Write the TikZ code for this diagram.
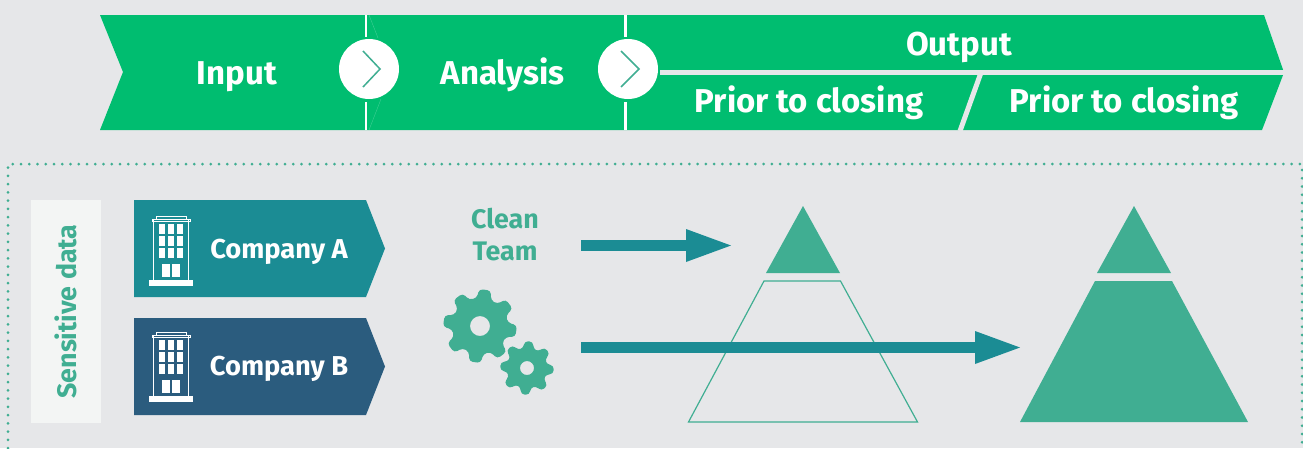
\documentclass[tikz,border=0pt]{standalone}
\usepackage{fontspec}
\setmainfont{Fira Sans}
\usepackage{xcolor}
\usetikzlibrary{arrows.meta,positioning}
\definecolor{pagegrey}{HTML}{E6E7E9}
\definecolor{topgreen}{HTML}{00BD70}
\definecolor{softgreen}{HTML}{40AE92}
\definecolor{tealbox}{HTML}{1B8C94}
\definecolor{bluebox}{HTML}{2B5C7E}
\definecolor{paleside}{HTML}{F3F5F4}
\tikzset{
  toplabel/.style={anchor=base,text=white,font=\fontsize{33}{36}\selectfont\bfseries},
  firmlabel/.style={anchor=base,text=white,font=\fontsize{27.3}{30}\selectfont\bfseries},
  softlabel/.style={anchor=base,text=softgreen,font=\fontsize{26.8}{30}\selectfont\bfseries},
  stage/.style={circle,fill=white,minimum size=60pt,inner sep=0pt},
  bigarrow/.style={draw=tealbox,line width=11pt,-{Triangle[length=45pt,width=33pt,line width=0pt,fill=tealbox]}},
}
\newcommand{\buildingicon}[1]{
  \begin{scope}[shift={(0,#1)}]
    \fill[white] (149,280) rectangle (193,285.5);
    \draw[white,line width=1pt] (153.5,280) -- (153.5,220) (188.5,220) -- (188.5,280);
    \draw[white,line width=1pt] (152,219) rectangle (190,221.5);
    \draw[white,line width=1pt] (156,216.5) rectangle (186,219);
    \foreach \wx in {158.7,167.7,176.7}
      \foreach \wy in {224,236,248.3}
        \fill[white] (\wx,\wy) rectangle ++(6.6,10);
    \fill[white] (162,264) rectangle (170.3,277);
    \fill[white] (171.7,264) rectangle (180,277);
  \end{scope}
}
\newcommand{\gearicon}[6]{
  \fill[softgreen,even odd rule,shift={(#1,#2)},rounded corners=3.5pt]
    ({#6-22.5}:#4) \foreach \k [evaluate=\k as \a using #6+\k*45] in {0,...,7}
      {-- ({\a-15}:#4) -- ({\a-9}:#3) -- ({\a+9}:#3) -- ({\a+15}:#4)} -- cycle
    (0,0) circle (#5);
}
\begin{document}
\begin{tikzpicture}[x=1pt,y=-1pt]
\useasboundingbox (0,0) rectangle (1303,448);
\fill[pagegrey] (0,0) rectangle (1303,448);
\fill[topgreen] (100,15) -- (1264,15) -- (1284,72.5) -- (1262,130) -- (100,130) -- (123,72) -- cycle;
\draw[topgreen!70!white,line width=0.3pt] (369,15) -- (378,38) (369,130) -- (381,99);
\draw[white,line width=2.5pt] (366,15) -- (366,37) (366,102) -- (366,130);
\draw[white,line width=2.5pt] (625.5,15) -- (625.5,37) (625.5,102) -- (625.5,130);
\node[stage] (stepone) at (369,69) {};
\node[stage] (steptwo) at (628,69) {};
\draw[softgreen,line width=1.5pt] (363,51) -- (380,69) -- (363,87);
\draw[softgreen,line width=1.5pt] (621,51) -- (639,69) -- (621,87);
\coordinate (splitend) at (1286,72.5);
\draw[pagegrey,line width=4.5pt] (660,72.5) -- (splitend);
\draw[pagegrey,line width=5pt] (980.5,74) -- (960,131);
\node[toplabel] (input) at (237,84) {Input};
\node[toplabel] (analysis) at (502.5,84) {Analysis};
\node[toplabel] (output) at (959,55) {Output};
\node[toplabel] (priorone) at (809,112) {Prior to closing};
\node[toplabel] (priortwo) at (1124,112) {Prior to closing};
\draw[softgreen,line width=3pt,line cap=round,dash pattern=on 0pt off 8.25pt] (8,448) -- (8,164) -- (1302,164) -- (1302,448);
\fill[paleside] (31,200) rectangle (101,423);
\node[softlabel,rotate=90] (sensitive) at (76,311.5) {Sensitive data};
\fill[tealbox] (134,200) -- (366,200) -- (385,248.5) -- (366,297) -- (134,297) -- cycle;
\fill[bluebox] (134,318) -- (366,318) -- (385,366.5) -- (366,415) -- (134,415) -- cycle;
\buildingicon{0}
\buildingicon{116}
\node[firmlabel] (firma) at (279,258.3) {Company A};
\node[firmlabel] (firmb) at (279,375.5) {Company B};
\node[softlabel] (clean) at (505,228.3) {Clean};
\node[softlabel] (team) at (505,260) {Team};
\gearicon{480}{326}{37}{28}{10}{-82}
\gearicon{527}{368}{27}{20}{7}{-86}
\fill[softgreen] (803,206) -- (840,273) -- (766,273) -- cycle;
\draw[softgreen,line width=1.2pt] (764,281) -- (840.5,281) -- (917.5,422) -- (688.5,422) -- cycle;
\fill[softgreen] (1134,206) -- (1171,273) -- (1097,273) -- cycle;
\fill[softgreen] (1095,281) -- (1172,281) -- (1248,422) -- (1020,422) -- cycle;
\coordinate (topstart) at (581,245.5);
\coordinate (topend) at (731,245.5);
\coordinate (lowstart) at (581,347.5);
\coordinate (lowend) at (1020,347.5);
\path (topstart) edge[bigarrow] (topend);
\path (lowstart) edge[bigarrow] (lowend);
\end{tikzpicture}
\end{document}
